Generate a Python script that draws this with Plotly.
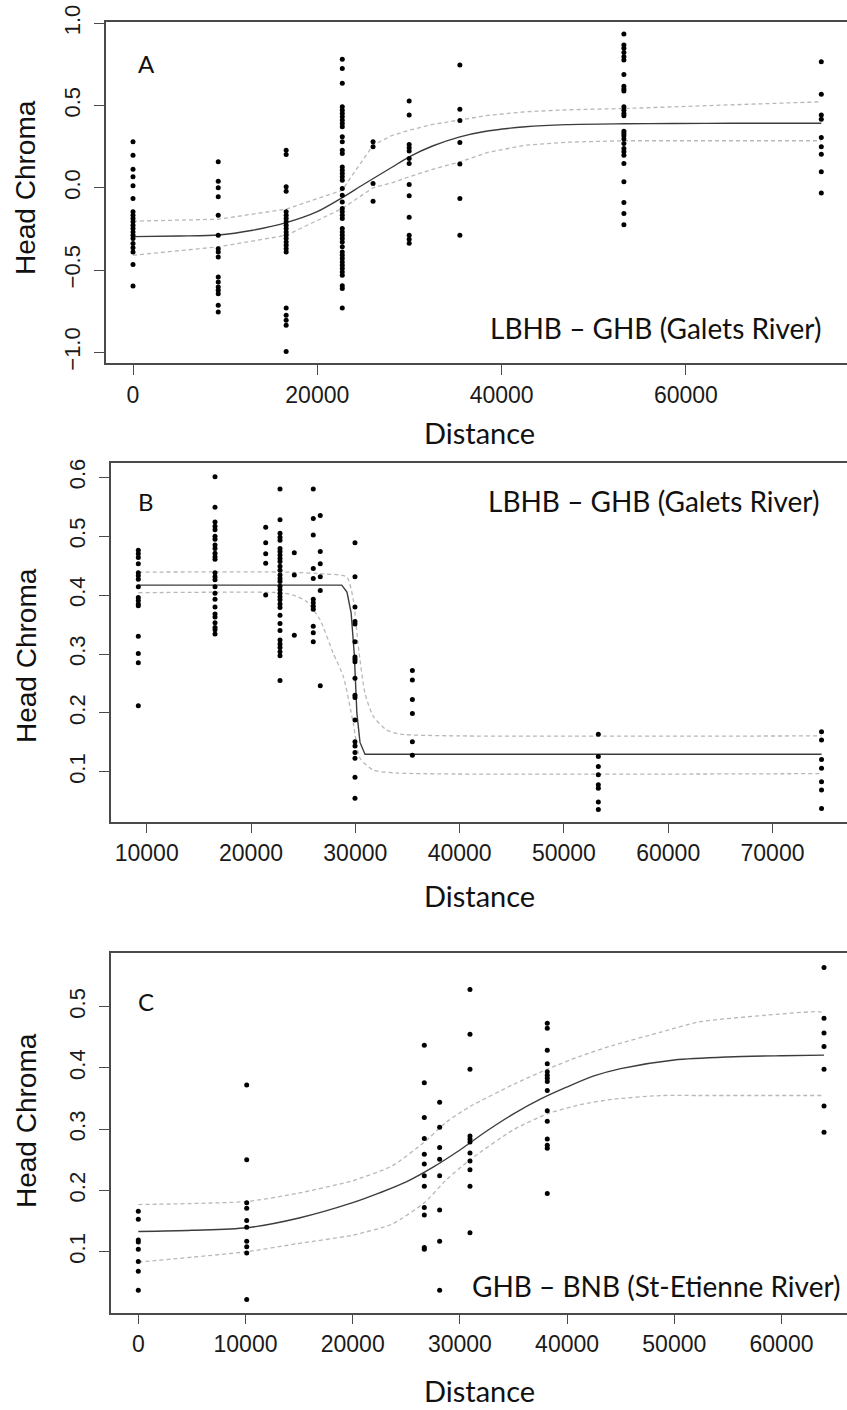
import plotly.graph_objects as go

W, H = 847, 1410

# ---------------- Panel A data ----------------
A_sites = [0, 9250, 16620, 22710, 26050, 29970, 35470, 53270, 74690]
A_values = [
    [0.280, 0.198, 0.113, 0.067, 0.012, -0.065, -0.146, -0.167, -0.187, -0.207, -0.228, -0.248, -0.268, -0.289, -0.309, -0.339, -0.364, -0.390, -0.467, -0.597],
    [0.158, 0.040, 0.000, -0.055, -0.167, -0.288, -0.370, -0.390, -0.420, -0.542, -0.573, -0.603, -0.623, -0.644, -0.714, -0.755],
    [0.229, 0.202, 0.006, -0.021, -0.146, -0.167, -0.187, -0.207, -0.228, -0.248, -0.268, -0.289, -0.309, -0.329, -0.349, -0.370, -0.390, -0.731, -0.775, -0.806, -0.836, -0.995],
    [0.781, 0.726, 0.635, 0.493, 0.472, 0.452, 0.432, 0.411, 0.391, 0.371, 0.310, 0.280, 0.229, 0.209, 0.127, 0.107, 0.087, 0.067, 0.046, -0.004, -0.045, -0.086, -0.126, -0.146, -0.167, -0.187, -0.248, -0.268, -0.289, -0.309, -0.329, -0.359, -0.390, -0.410, -0.430, -0.451, -0.471, -0.491, -0.512, -0.532, -0.595, -0.613, -0.731],
    [0.280, 0.249, 0.026, -0.082],
    [0.527, 0.442, 0.263, 0.243, 0.223, 0.178, 0.148, 0.020, -0.049, -0.179, -0.288, -0.313, -0.337],
    [0.746, 0.478, 0.409, 0.276, 0.144, -0.065, -0.288],
    [0.935, 0.868, 0.848, 0.823, 0.797, 0.777, 0.689, 0.618, 0.600, 0.588, 0.493, 0.472, 0.452, 0.438, 0.344, 0.330, 0.316, 0.296, 0.269, 0.239, 0.219, 0.198, 0.148, 0.036, -0.090, -0.157, -0.224],
    [0.766, 0.568, 0.442, 0.416, 0.306, 0.249, 0.204, 0.097, -0.031],
]
A_fit_x = [0, 5000, 9250, 13000, 16620, 19930, 22710, 25000, 28100, 29970, 32500, 35470, 38000, 42570, 47000, 53270, 58700, 65000, 74690]
A_fit_y = [-0.297, -0.293, -0.287, -0.258, -0.212, -0.147, -0.060, 0.020, 0.125, 0.188, 0.254, 0.310, 0.341, 0.371, 0.384, 0.389, 0.391, 0.392, 0.392]
A_hi_x = [0, 9250, 16620, 22710, 23300, 26050, 28100, 29970, 32500, 35470, 38500, 42570, 47000, 53270, 58700, 66000, 74690]
A_hi_y = [-0.203, -0.191, -0.130, -0.015, 0.036, 0.259, 0.318, 0.350, 0.385, 0.411, 0.440, 0.462, 0.474, 0.482, 0.493, 0.506, 0.523]
A_lo_x = [0, 9250, 16620, 22710, 26050, 28100, 29970, 32500, 35470, 38500, 42570, 47000, 53270, 74690]
A_lo_y = [-0.410, -0.359, -0.289, -0.126, 0.000, 0.030, 0.067, 0.112, 0.158, 0.215, 0.259, 0.277, 0.286, 0.286]

# ---------------- Panel B data ----------------
B_sites = [9195, 16550, 21410, 22780, 24150, 25970, 26640, 29970, 35470, 53300, 74700]
B_values = [
    [0.476, 0.470, 0.464, 0.453, 0.438, 0.433, 0.427, 0.414, 0.396, 0.391, 0.385, 0.382, 0.330, 0.301, 0.285, 0.212],
    [0.601, 0.549, 0.524, 0.517, 0.511, 0.500, 0.495, 0.485, 0.479, 0.471, 0.465, 0.461, 0.438, 0.431, 0.426, 0.414, 0.403, 0.393, 0.380, 0.368, 0.363, 0.353, 0.345, 0.341, 0.334],
    [0.515, 0.489, 0.470, 0.454, 0.400],
    [0.580, 0.528, 0.505, 0.498, 0.493, 0.479, 0.474, 0.468, 0.462, 0.457, 0.449, 0.442, 0.434, 0.428, 0.423, 0.415, 0.409, 0.403, 0.397, 0.392, 0.385, 0.379, 0.366, 0.352, 0.340, 0.324, 0.317, 0.311, 0.304, 0.297, 0.255],
    [0.472, 0.434, 0.332],
    [0.580, 0.530, 0.502, 0.445, 0.428, 0.393, 0.387, 0.381, 0.376, 0.347, 0.336, 0.321],
    [0.535, 0.474, 0.453, 0.431, 0.408, 0.246],
    [0.489, 0.431, 0.380, 0.355, 0.351, 0.321, 0.295, 0.291, 0.287, 0.259, 0.230, 0.226, 0.188, 0.151, 0.144, 0.133, 0.123, 0.091, 0.055],
    [0.272, 0.256, 0.223, 0.199, 0.151, 0.128],
    [0.164, 0.126, 0.109, 0.095, 0.078, 0.072, 0.049, 0.036],
    [0.168, 0.154, 0.121, 0.106, 0.083, 0.069, 0.038],
]
B_fit_x = [9195, 20000, 28700, 29200, 29600, 29900, 30150, 30450, 30930, 40000, 53300, 74700]
B_fit_y = [0.417, 0.417, 0.417, 0.405, 0.370, 0.300, 0.200, 0.150, 0.130, 0.130, 0.130, 0.130]
B_hi_x = [9195, 23420, 27000, 29170, 29810, 30290, 30930, 31730, 33010, 34290, 40000, 74700]
B_hi_y = [0.439, 0.439, 0.436, 0.431, 0.392, 0.313, 0.233, 0.194, 0.171, 0.164, 0.161, 0.161]
B_lo_x = [9195, 22780, 24060, 25340, 26620, 27890, 28850, 29810, 30450, 31730, 34000, 74700]
B_lo_y = [0.404, 0.404, 0.400, 0.389, 0.358, 0.301, 0.262, 0.182, 0.123, 0.103, 0.098, 0.097]

# ---------------- Panel C data ----------------
C_sites = [0, 10112, 26680, 28110, 30940, 38150, 63965]
C_values = [
    [0.166, 0.153, 0.119, 0.116, 0.104, 0.084, 0.068, 0.037],
    [0.372, 0.250, 0.180, 0.171, 0.151, 0.140, 0.117, 0.108, 0.098, 0.022],
    [0.437, 0.376, 0.319, 0.285, 0.259, 0.243, 0.224, 0.207, 0.172, 0.160, 0.107, 0.104],
    [0.344, 0.303, 0.270, 0.251, 0.224, 0.168, 0.117, 0.037],
    [0.528, 0.455, 0.398, 0.289, 0.284, 0.279, 0.261, 0.248, 0.234, 0.207, 0.131],
    [0.473, 0.465, 0.429, 0.407, 0.394, 0.388, 0.383, 0.378, 0.363, 0.330, 0.313, 0.284, 0.274, 0.269, 0.195],
    [0.564, 0.481, 0.457, 0.435, 0.398, 0.338, 0.295],
]
C_fit_x = [0, 5000, 10112, 15000, 20000, 22500, 25000, 27500, 30000, 32500, 35000, 37500, 40000, 42500, 45000, 50000, 55000, 60000, 63965]
C_fit_y = [0.133, 0.135, 0.139, 0.155, 0.180, 0.196, 0.214, 0.238, 0.266, 0.297, 0.325, 0.349, 0.369, 0.387, 0.399, 0.413, 0.418, 0.420, 0.421]
C_hi_x = [0, 10112, 14776, 20000, 23666, 26680, 28770, 30940, 34980, 38150, 41200, 44310, 48850, 52240, 58460, 63430, 63965]
C_hi_y = [0.177, 0.182, 0.195, 0.216, 0.240, 0.279, 0.312, 0.337, 0.373, 0.398, 0.419, 0.437, 0.459, 0.475, 0.486, 0.492, 0.490]
C_lo_x = [0, 10112, 14776, 20000, 23666, 26680, 28770, 30940, 34980, 38150, 41200, 44310, 48850, 52240, 63965]
C_lo_y = [0.083, 0.100, 0.113, 0.127, 0.145, 0.180, 0.218, 0.250, 0.299, 0.325, 0.340, 0.349, 0.355, 0.355, 0.355]

# ---------------- Ticks / labels ----------------
A_xticks = [0, 20000, 40000, 60000]
A_xlabels = ["0", "20000", "40000", "60000"]
A_yticks = [-1.0, -0.5, 0.0, 0.5, 1.0]
A_ylabels = ["\u22121.0", "\u22120.5", "0.0", "0.5", "1.0"]
B_xticks = [10000, 20000, 30000, 40000, 50000, 60000, 70000]
B_xlabels = ["10000", "20000", "30000", "40000", "50000", "60000", "70000"]
B_yticks = [0.1, 0.2, 0.3, 0.4, 0.5, 0.6]
B_ylabels = ["0.1", "0.2", "0.3", "0.4", "0.5", "0.6"]
C_xticks = [0, 10000, 20000, 30000, 40000, 50000, 60000]
C_xlabels = ["0", "10000", "20000", "30000", "40000", "50000", "60000"]
C_yticks = [0.1, 0.2, 0.3, 0.4, 0.5]
C_ylabels = ["0.1", "0.2", "0.3", "0.4", "0.5"]

panel_letters = ["A", "B", "C"]
panel_notes = ["LBHB \u2013 GHB (Galets River)", "LBHB \u2013 GHB (Galets River)", "GHB \u2013 BNB (St-Etienne River)"]
x_title = "Distance"
y_title = "Head Chroma"

# ---------------- Layout geometry (pixels) ----------------
def px_x(p):
    return p / W

def px_y(p):
    return 1 - p / H

panels = [
    dict(sites=A_sites, values=A_values, fit=(A_fit_x, A_fit_y), hi=(A_hi_x, A_hi_y), lo=(A_lo_x, A_lo_y),
         fit_shape="spline", ci_shape="linear",
         xt=(A_xticks, A_xlabels), yt=(A_yticks, A_ylabels),
         xrange=[-2930, 77480], yrange=[-1.067, 1.0098],
         box=(106, 21.7, 363.3), letter=(146, 63.5), note=(823, 328), ytitle_y=188, xtitle_y=433),
    dict(sites=B_sites, values=B_values, fit=(B_fit_x, B_fit_y), hi=(B_hi_x, B_hi_y), lo=(B_lo_x, B_lo_y),
         fit_shape="linear", ci_shape="spline",
         xt=(B_xticks, B_xlabels), yt=(B_yticks, B_ylabels),
         xrange=[6548, 77142], yrange=[0.0154, 0.6237],
         box=(110.7, 463.3, 821.7), letter=(145.5, 501), note=(821, 501), ytitle_y=656, xtitle_y=895),
    dict(sites=C_sites, values=C_values, fit=(C_fit_x, C_fit_y), hi=(C_hi_x, C_hi_y), lo=(C_lo_x, C_lo_y),
         fit_shape="spline", ci_shape="spline",
         xt=(C_xticks, C_xlabels), yt=(C_yticks, C_ylabels),
         xrange=[-2575, 66110], yrange=[0.0004, 0.5872],
         box=(110.7, 953.3, 1312.7), letter=(145.5, 1001), note=(843, 1286), ytitle_y=1121, xtitle_y=1390),
]

fig = go.Figure()
annotations = []
layout_axes = {}

AXIS_COLOR = "#4a4a4a"
DOT_COLOR = "#000000"
FIT_COLOR = "#3c3c3c"
CI_COLOR = "#b8b8b8"

for i, p in enumerate(panels):
    n = "" if i == 0 else str(i + 1)
    xa, ya = "x" + n, "y" + n
    for key in ("hi", "lo"):
        cx, cy = p[key]
        fig.add_trace(go.Scatter(x=cx, y=cy, mode="lines", xaxis=xa, yaxis=ya,
                                 line=dict(color=CI_COLOR, width=1.3, dash="4px,3px", shape=p["ci_shape"], smoothing=0.6),
                                 showlegend=False, hoverinfo="skip"))
    fx, fy = p["fit"]
    fig.add_trace(go.Scatter(x=fx, y=fy, mode="lines", xaxis=xa, yaxis=ya,
                             line=dict(color=FIT_COLOR, width=1.4, shape=p["fit_shape"], smoothing=0.8),
                             showlegend=False, hoverinfo="skip"))
    px_, py_ = [], []
    for s, vals in zip(p["sites"], p["values"]):
        px_ += [s] * len(vals)
        py_ += vals
    fig.add_trace(go.Scatter(x=px_, y=py_, mode="markers", xaxis=xa, yaxis=ya,
                             marker=dict(color=DOT_COLOR, size=5, line=dict(width=0)),
                             showlegend=False))

    left, top, bottom = p["box"]
    common = dict(showline=True, linecolor=AXIS_COLOR, linewidth=1.5, mirror=True,
                  ticks="outside", ticklen=10, tickwidth=1.4, tickcolor=AXIS_COLOR,
                  showgrid=False, zeroline=False, tickmode="array", automargin=False)
    layout_axes["xaxis" + n] = dict(
        common, domain=[px_x(left), 1.0], range=p["xrange"], anchor=ya,
        tickvals=p["xt"][0], ticktext=p["xt"][1],
        tickfont=dict(family="Liberation Sans, Arial, sans-serif", size=23, color="#1a1a1a"),
        ticklabelstandoff=0)
    layout_axes["yaxis" + n] = dict(
        common, domain=[px_y(bottom), px_y(top)], range=p["yrange"], anchor=xa,
        tickvals=p["yt"][0], ticktext=p["yt"][1], tickangle=-90,
        tickfont=dict(family="Liberation Sans, Arial, sans-serif", size=22, color="#1a1a1a"),
        ticklabelstandoff=5)

    lx, ly = p["letter"]
    annotations.append(dict(text=panel_letters[i], x=px_x(lx), y=px_y(ly), xref="paper", yref="paper",
                            xanchor="center", yanchor="middle", showarrow=False,
                            font=dict(family="Lato, Open Sans, sans-serif", size=24, color="#111111")))
    nx, ny = p["note"]
    annotations.append(dict(text=panel_notes[i], x=px_x(nx), y=px_y(ny), xref="paper", yref="paper",
                            xanchor="right", yanchor="middle", showarrow=False,
                            font=dict(family="Lato, Open Sans, sans-serif", size=28, color="#111111")))
    annotations.append(dict(text=y_title, x=px_x(26), y=px_y(p["ytitle_y"]), xref="paper", yref="paper",
                            xanchor="center", yanchor="middle", showarrow=False, textangle=-90,
                            font=dict(family="Liberation Sans, Arial, sans-serif", size=28, color="#111111")))
    annotations.append(dict(text=x_title, x=px_x(479.5), y=px_y(p["xtitle_y"]), xref="paper", yref="paper",
                            xanchor="center", yanchor="middle", showarrow=False,
                            font=dict(family="Lato, Open Sans, sans-serif", size=29, color="#111111")))

fig.update_layout(
    template="none",
    width=W, height=H,
    margin=dict(l=0, r=0, t=0, b=0, autoexpand=False),
    paper_bgcolor="white", plot_bgcolor="white",
    showlegend=False,
    annotations=annotations,
    **layout_axes,
)

fig.write_html("out.html", config={"displayModeBar": False},
               post_script="document.body.style.margin='0';document.body.style.overflow='hidden';")
